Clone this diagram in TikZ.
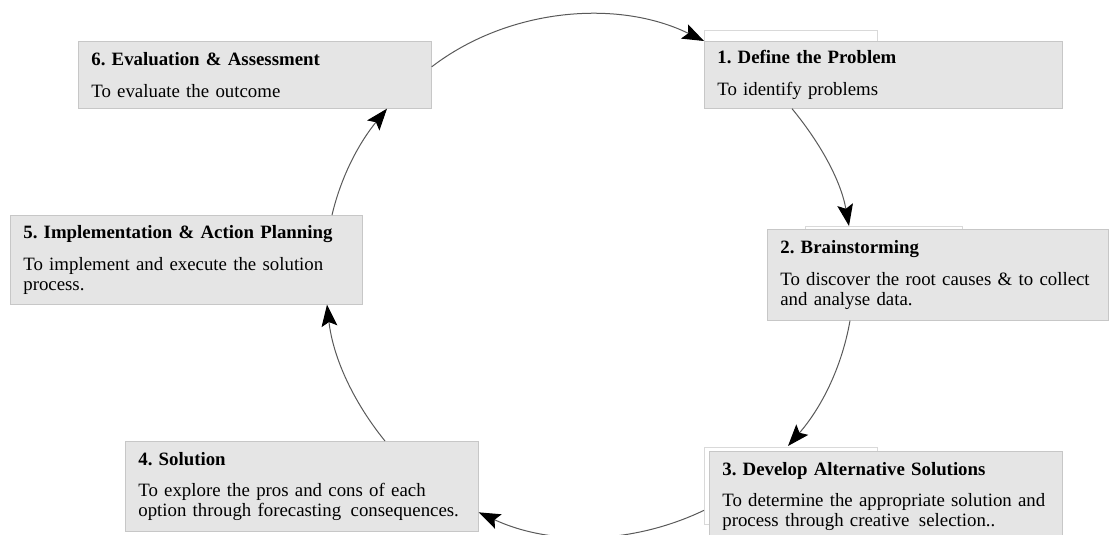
\documentclass[tikz,border=0pt]{standalone}
\usepackage{fontspec}
\setmainfont{Liberation Serif}
\usetikzlibrary{arrows.meta,backgrounds}
\newlength{\pxu}
\setlength{\pxu}{0.6pt}
\frenchspacing

\begin{document}
\begin{tikzpicture}[
  x=\pxu, y=\pxu,
  >=Stealth,
  stepbox/.style={rectangle, draw=black!22, fill=black!10, anchor=north west,
    inner xsep=13\pxu, inner ysep=0pt, align=left,
    font=\fontsize{11.3}{12}\selectfont},
  tabbox/.style={draw=black!15, fill=white},
  arr/.style={->, draw=black!65, line width=0.6pt, looseness=0.9,
    >={Stealth[length=13pt,width=9.5pt,inset=2.5pt,black]}},
]
\useasboundingbox (0,0) rectangle (1110,534);
\clip (0,0) rectangle (1110,534);

% Step boxes
\node[stepbox, text width=332\pxu, minimum height=67\pxu] (define) at (704,493)
  {\textbf{1. Define the Problem}\\[7pt]To identify problems};

\node[stepbox, text width=315\pxu, minimum height=91\pxu] (brain) at (767,305)
  {\textbf{2. Brainstorming}\\[7pt]To discover the root causes \& to collect\\
   and analyse data.};

\node[stepbox, text width=327\pxu, minimum height=90\pxu] (develop) at (709,83)
  {\textbf{3. Develop Alternative Solutions}\\[7pt]To determine the appropriate solution and\\
   process through creative\, selection..};

\node[stepbox, text width=327\pxu, minimum height=90\pxu] (solution) at (125,93)
  {\textbf{4. Solution}\\[7pt]To explore the pros and cons of each\\
   option through forecasting\, consequences.};

\node[stepbox, text width=326\pxu, minimum height=89\pxu] (impl) at (10,319)
  {\textbf{5. Implementation \& Action Planning}\\[7pt]To implement and execute the solution\\
   process.};

\node[stepbox, text width=327\pxu, minimum height=67\pxu] (eval) at (78,493)
  {\textbf{6. Evaluation \& Assessment}\\[7pt]To evaluate the outcome};

% Tabs behind the boxes
\begin{scope}[on background layer]
  \draw[tabbox] ([yshift=11\pxu]define.north west) rectangle ++(173,-40);
  \draw[tabbox] ([xshift=38\pxu, yshift=3\pxu]brain.north west) rectangle ++(157,-30);
  \draw[tabbox] ([xshift=-5\pxu, yshift=4\pxu]develop.north west) rectangle ++(173,-77);
\end{scope}

% Cycle arrows
\draw[arr] ([yshift=8\pxu]eval.east) to[out=37.5, in=153.9] (define.north west);
\draw[arr] ([xshift=88\pxu]define.south west) to[out=-50.6, in=100.3] ([xshift=82\pxu, yshift=3\pxu]brain.north west);
\draw[arr] ([xshift=83\pxu]brain.south west) to[out=-100, in=48.9] ([xshift=79\pxu, yshift=5\pxu]develop.north west);
\draw[arr] ([xshift=-5\pxu, yshift=-14\pxu]develop.west) to[out=205.6, in=-25] ([yshift=-26\pxu]solution.east);
\draw[arr] ([xshift=260\pxu]solution.north west) to[out=129, in=-83.5] ([xshift=317\pxu]impl.south west);
\draw[arr] ([xshift=322\pxu]impl.north west) to[out=76.7, in=230.7] ([xshift=309\pxu]eval.south west);

\end{tikzpicture}
\end{document}
